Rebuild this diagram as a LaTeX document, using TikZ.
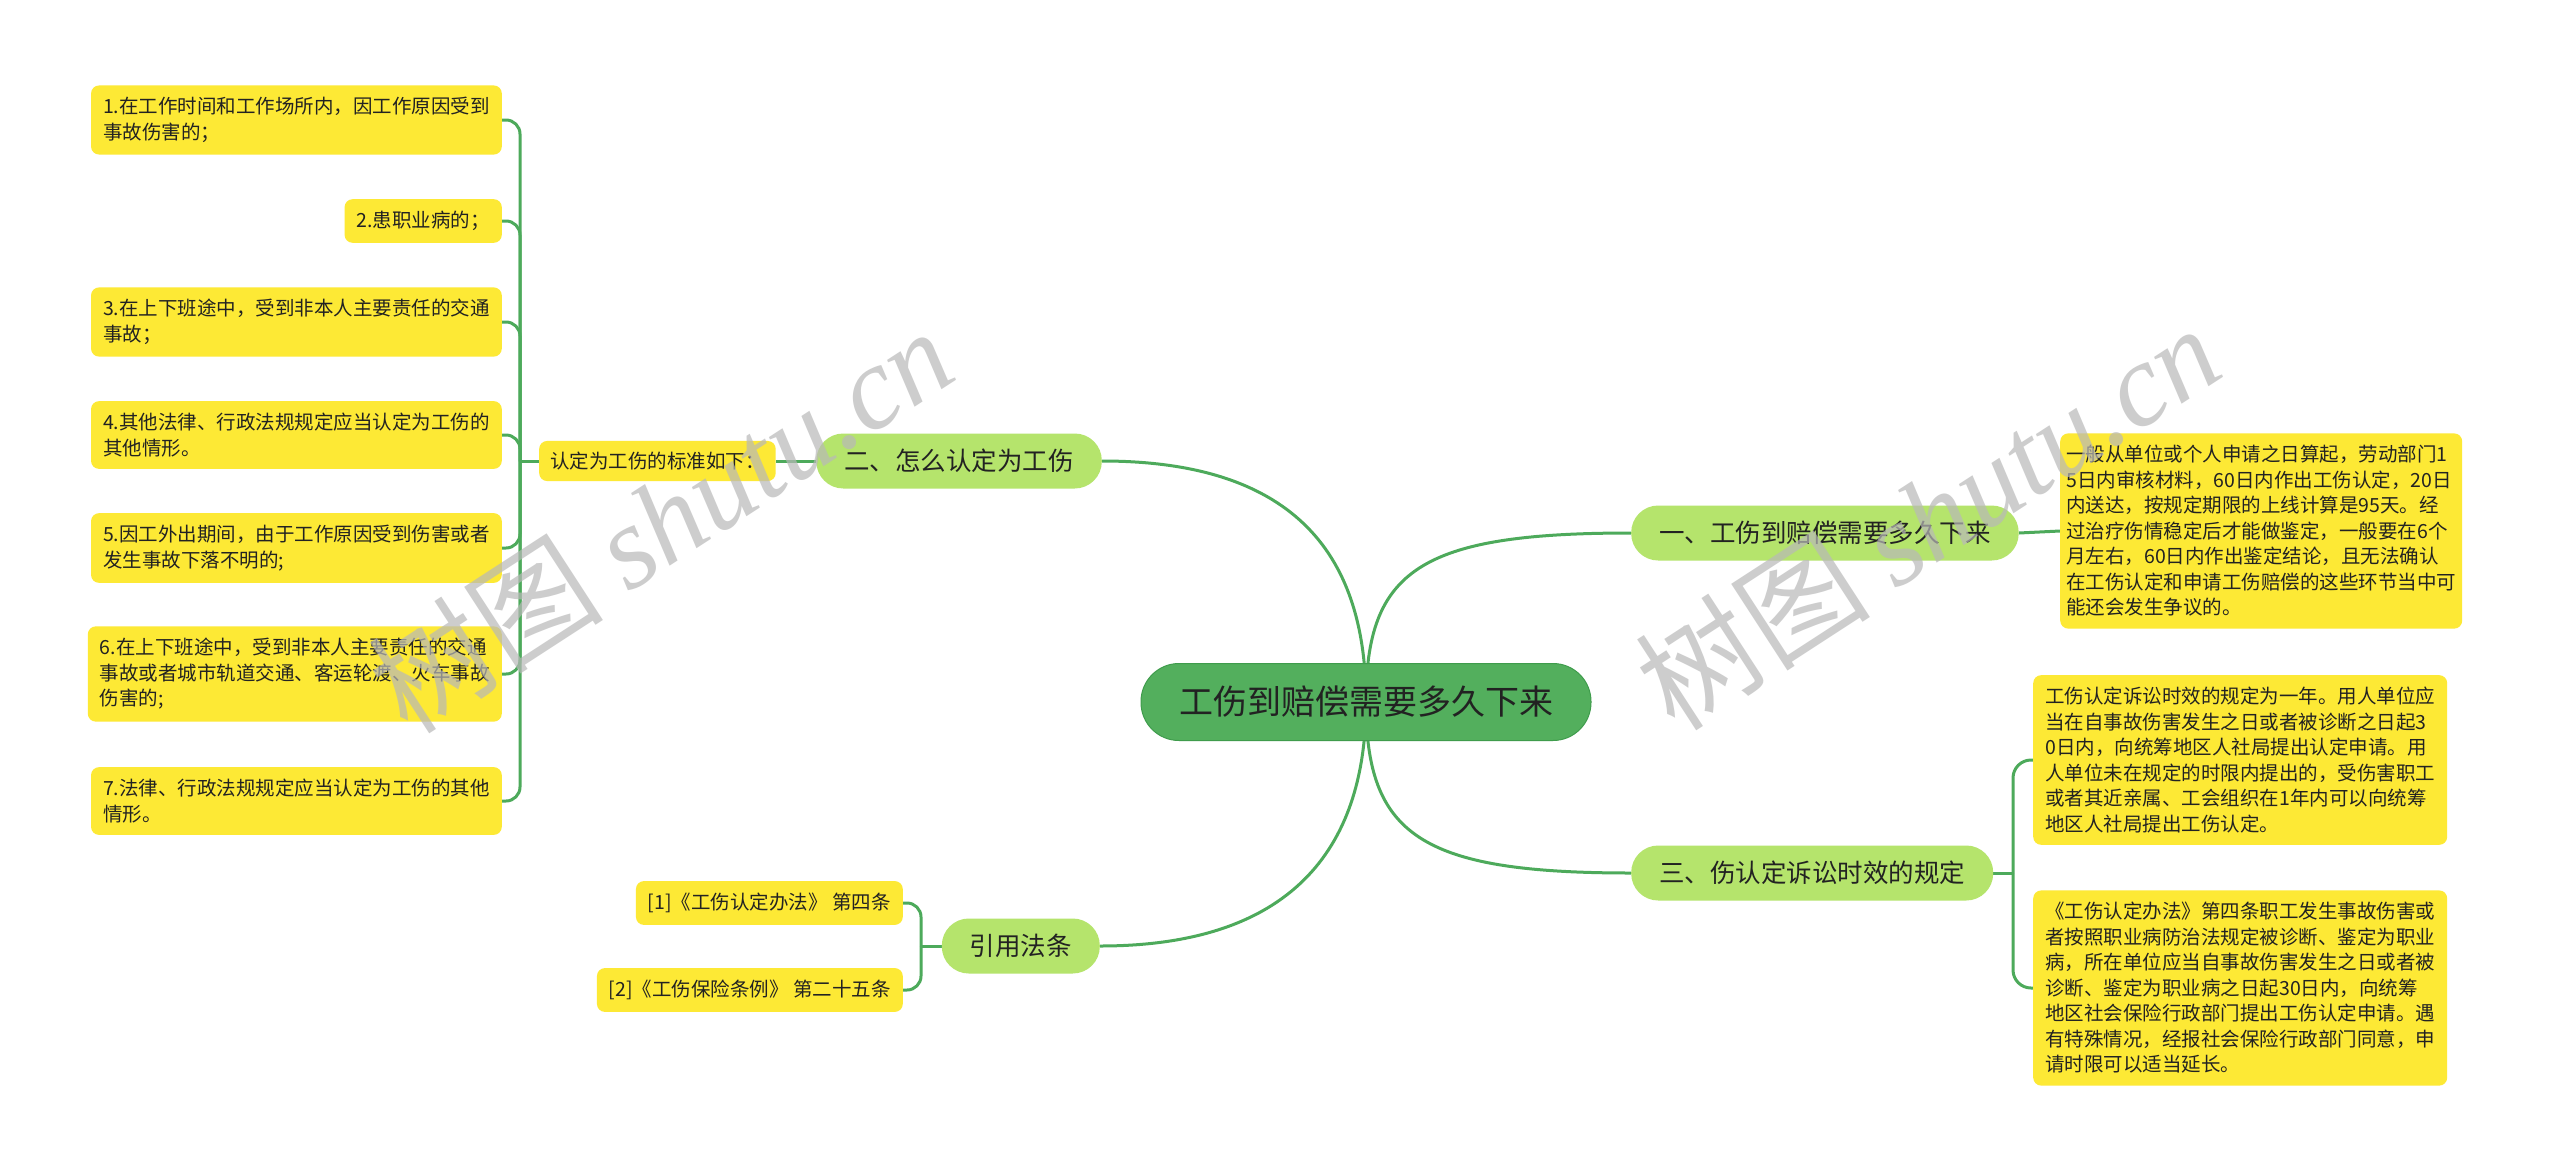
\documentclass[tikz,border=0pt]{standalone}
\usepackage{fontspec}
\setmainfont{Noto Sans CJK SC}
\newfontfamily\wmlat{Liberation Serif}
\usetikzlibrary{backgrounds}
\definecolor{rootg}{HTML}{53AF5D}
\definecolor{rootd}{HTML}{3F9C4C}
\definecolor{brg}{HTML}{B5E46C}
\definecolor{leafy}{HTML}{FDE935}
\definecolor{lineg}{HTML}{4DAA5B}
\definecolor{txt}{HTML}{222222}
\definecolor{wm}{HTML}{B8B8B8}
\tikzset{
 leaf/.style={fill=leafy, rounded corners=8pt, align=left, inner xsep=12pt, inner ysep=12pt, text=txt, font=\fontsize{19.5pt}{25.5pt}\selectfont},
 branch/.style={fill=brg, rounded corners=27pt, minimum height=55pt, inner xsep=28pt, inner ysep=0pt, text=txt, font=\fontsize{25.5pt}{30pt}\selectfont},
 rootnode/.style={fill=rootg, draw=rootd, line width=1pt, rounded corners=38pt, minimum height=77pt, inner xsep=38pt, text=txt, font=\fontsize{34pt}{40pt}\selectfont},
 conn/.style={draw=lineg, line width=3pt},
 wmark/.style={text=wm, opacity=0.7, rotate=33, inner sep=0pt}
}
\begin{document}
\begin{tikzpicture}[x=1pt,y=-1pt]
\useasboundingbox (0,0) rectangle (2560,1173);

% root and branches
\node[rootnode] (root) at (1366,702) {工伤到赔偿需要多久下来};
\node[branch, anchor=west] (b1) at (1631,533) {一、工伤到赔偿需要多久下来};
\node[branch, anchor=west] (b3) at (1631,873) {三、伤认定诉讼时效的规定};
\node[branch, anchor=east] (b2) at (1102,461) {二、怎么认定为工伤};
\node[branch, anchor=east] (b4) at (1100,946) {引用法条};

% left side
\node[leaf, inner xsep=11pt, inner ysep=11pt, anchor=west] (lab) at (539,461) {认定为工伤的标准如下：};
\node[leaf, anchor=east] (l1) at (502,120) {1.在工作时间和工作场所内，因工作原因受到\\事故伤害的；};
\node[leaf, anchor=east] (l2) at (502,221) {2.患职业病的；};
\node[leaf, anchor=east] (l3) at (502,322) {3.在上下班途中，受到非本人主要责任的交通\\事故；};
\node[leaf, anchor=east] (l4) at (502,435) {4.其他法律、行政法规规定应当认定为工伤的\\其他情形。};
\node[leaf, anchor=east] (l5) at (502,548) {5.因工外出期间，由于工作原因受到伤害或者\\发生事故下落不明的;};
\node[leaf, anchor=east] (l6) at (502,674) {6.在上下班途中，受到非本人主要责任的交通\\事故或者城市轨道交通、客运轮渡、火车事故\\伤害的;};
\node[leaf, anchor=east] (l7) at (502,801) {7.法律、行政法规规定应当认定为工伤的其他\\情形。};

% references
\node[leaf, anchor=east] (r1) at (903,903) {[1]《工伤认定办法》 第四条};
\node[leaf, anchor=east] (r2) at (903,990) {[2]《工伤保险条例》 第二十五条};

% right side
\node[leaf, anchor=west, inner xsep=6pt] (t1) at (2060,531) {一般从单位或个人申请之日算起，劳动部门1\\5日内审核材料，60日内作出工伤认定，20日\\内送达，按规定期限的上线计算是95天。经\\过治疗伤情稳定后才能做鉴定，一般要在6个\\月左右，60日内作出鉴定结论，且无法确认\\在工伤认定和申请工伤赔偿的这些环节当中可\\能还会发生争议的。};
\node[leaf, anchor=west] (t2) at (2033,760) {工伤认定诉讼时效的规定为一年。用人单位应\\当在自事故伤害发生之日或者被诊断之日起3\\0日内，向统筹地区人社局提出认定申请。用\\人单位未在规定的时限内提出的，受伤害职工\\或者其近亲属、工会组织在1年内可以向统筹\\地区人社局提出工伤认定。};
\node[leaf, anchor=west] (t3) at (2033,988) {《工伤认定办法》第四条职工发生事故伤害或\\者按照职业病防治法规定被诊断、鉴定为职业\\病，所在单位应当自事故伤害发生之日或者被\\诊断、鉴定为职业病之日起30日内，向统筹\\地区社会保险行政部门提出工伤认定申请。遇\\有特殊情况，经报社会保险行政部门同意，申\\请时限可以适当延长。};

\begin{scope}[on background layer]
 \fill[white] (0,0) rectangle (2560,1173);
 \draw[conn] (root.center) .. controls (1366,570) and (1420,533) .. (b1.west);
 \draw[conn] (root.center) .. controls (1366,835) and (1420,873) .. (b3.west);
 \draw[conn] (root.center) .. controls (1366,560) and (1300,461) .. (b2.east);
 \draw[conn] (root.center) .. controls (1366,840) and (1300,946) .. (b4.east);
 \draw[conn] (b1.east) -- (t1.west);
 \draw[conn] (b2.west) -- (lab.east);
 \coordinate (lj) at (520,461);
 \draw[conn] (lab.west) -- (lj);
 \foreach \n in {l1,l2,l3,l4,l5,l6,l7}{
   \draw[conn, rounded corners=14pt] (lj) |- (\n.east);
 }
 \coordinate (rj) at (921,946);
 \draw[conn] (b4.west) -- (rj);
 \draw[conn, rounded corners=14pt] (rj) |- (r1.east);
 \draw[conn, rounded corners=14pt] (rj) |- (r2.east);
 \coordinate (tj) at (2013,873);
 \draw[conn] (b3.east) -- (tj);
 \draw[conn, rounded corners=18pt] (tj) |- (t2.west);
 \draw[conn, rounded corners=18pt] (tj) |- (t3.west);
\end{scope}

% watermarks
\node[wmark] (wm1) at (660,519) {\fontsize{118pt}{118pt}\selectfont 树图 {\wmlat\itshape shutu.cn}};
\node[wmark] (wm2) at (1927,516) {\fontsize{118pt}{118pt}\selectfont 树图 {\wmlat\itshape shutu.cn}};
\end{tikzpicture}
\end{document}
